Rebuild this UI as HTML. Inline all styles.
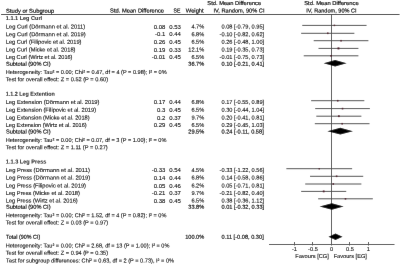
<!DOCTYPE html>
<html><head><meta charset="utf-8"><style>
html,body{margin:0;padding:0;background:#fff;}
body{width:400px;height:264px;overflow:hidden;}
svg{display:block;}
g.tx text{font-family:"Liberation Sans",sans-serif;font-size:5.65px;fill:#000;stroke:#000;stroke-width:0.1px;white-space:pre;}
g.tx text.b{font-weight:bold;fill:#1a1a1a;stroke:#1a1a1a;stroke-width:0.05px;}
</style></head><body>
<svg width="400" height="264" viewBox="0 0 400 264">
<defs>
<filter id="bl" x="0" y="0" width="400" height="264" filterUnits="userSpaceOnUse"><feConvolveMatrix order="3" kernelMatrix="0 1 0 1 24 1 0 1 0" divisor="28" edgeMode="duplicate"/></filter></defs>
<g filter="url(#bl)">
<rect x="0" y="0" width="400" height="264" fill="#fff"/>
<line x1="331.50" y1="14.50" x2="331.50" y2="244.50" stroke="#555" stroke-width="1.0"/>
<line x1="1.00" y1="14.50" x2="399.50" y2="14.50" stroke="#444" stroke-width="1.0"/>
<line x1="302.26" y1="25.40" x2="366.55" y2="25.40" stroke="#505050" stroke-width="1.0"/>
<rect x="333.69" y="24.69" width="1.43" height="1.43" fill="#4a1020"/>
<line x1="301.15" y1="33.30" x2="354.36" y2="33.30" stroke="#505050" stroke-width="1.0"/>
<rect x="326.97" y="32.51" width="1.58" height="1.58" fill="#4a1020"/>
<line x1="313.71" y1="40.70" x2="368.40" y2="40.70" stroke="#505050" stroke-width="1.0"/>
<rect x="340.28" y="39.92" width="1.56" height="1.56" fill="#4a1020"/>
<line x1="318.52" y1="48.40" x2="358.42" y2="48.40" stroke="#505050" stroke-width="1.0"/>
<rect x="337.50" y="47.43" width="1.95" height="1.95" fill="#4a1020"/>
<line x1="303.74" y1="55.80" x2="358.42" y2="55.80" stroke="#505050" stroke-width="1.0"/>
<rect x="330.30" y="55.02" width="1.56" height="1.56" fill="#4a1020"/>
<polygon points="323.69,63.25 335.14,59.95 346.60,63.25 335.14,66.55" fill="#000"/>
<line x1="311.13" y1="100.70" x2="364.34" y2="100.70" stroke="#505050" stroke-width="1.0"/>
<rect x="336.94" y="99.91" width="1.58" height="1.58" fill="#4a1020"/>
<line x1="315.19" y1="108.60" x2="369.88" y2="108.60" stroke="#505050" stroke-width="1.0"/>
<rect x="341.76" y="107.82" width="1.56" height="1.56" fill="#4a1020"/>
<line x1="316.30" y1="116.20" x2="361.38" y2="116.20" stroke="#505050" stroke-width="1.0"/>
<rect x="337.95" y="115.31" width="1.78" height="1.78" fill="#4a1020"/>
<line x1="314.82" y1="123.70" x2="369.51" y2="123.70" stroke="#505050" stroke-width="1.0"/>
<rect x="341.39" y="122.92" width="1.56" height="1.56" fill="#4a1020"/>
<polygon points="327.39,131.15 340.32,127.85 352.88,131.15 340.32,134.45" fill="#000"/>
<line x1="286.37" y1="168.70" x2="352.14" y2="168.70" stroke="#505050" stroke-width="1.0"/>
<rect x="318.55" y="167.99" width="1.42" height="1.42" fill="#4a1020"/>
<line x1="310.02" y1="176.30" x2="363.23" y2="176.30" stroke="#505050" stroke-width="1.0"/>
<rect x="335.83" y="175.51" width="1.58" height="1.58" fill="#4a1020"/>
<line x1="305.22" y1="184.00" x2="361.38" y2="184.00" stroke="#505050" stroke-width="1.0"/>
<rect x="332.53" y="183.23" width="1.53" height="1.53" fill="#4a1020"/>
<line x1="301.15" y1="191.40" x2="346.23" y2="191.40" stroke="#505050" stroke-width="1.0"/>
<rect x="322.80" y="190.51" width="1.78" height="1.78" fill="#4a1020"/>
<line x1="318.15" y1="198.80" x2="372.83" y2="198.80" stroke="#505050" stroke-width="1.0"/>
<rect x="344.71" y="198.02" width="1.56" height="1.56" fill="#4a1020"/>
<polygon points="319.63,206.50 331.82,203.20 343.64,206.50 331.82,209.80" fill="#000"/>
<polygon points="328.49,236.70 335.51,233.40 342.53,236.70 335.51,240.00" fill="#000"/>
<line x1="269.00" y1="244.50" x2="394.50" y2="244.50" stroke="#555" stroke-width="1.0"/>
<line x1="294.50" y1="242.00" x2="294.50" y2="245.50" stroke="#555" stroke-width="1.0"/>
<line x1="312.50" y1="242.00" x2="312.50" y2="245.50" stroke="#555" stroke-width="1.0"/>
<line x1="331.50" y1="242.00" x2="331.50" y2="245.50" stroke="#555" stroke-width="1.0"/>
<line x1="349.50" y1="242.00" x2="349.50" y2="245.50" stroke="#555" stroke-width="1.0"/>
<line x1="368.50" y1="242.00" x2="368.50" y2="245.50" stroke="#555" stroke-width="1.0"/>
<g class="tx">
<text transform="matrix(1.0231,0.0005,0,1,6.04,12.70)" style="stroke-width:0.17px">Study or Subgroup</text>
<text transform="matrix(1.0216,0.0005,0,1,110.04,12.50)" style="stroke-width:0.17px">Std. Mean Difference</text>
<text transform="matrix(0.9094,0.0005,0,1,173.47,12.50)" style="stroke-width:0.17px">SE</text>
<text transform="matrix(1.0275,0.0005,0,1,185.77,12.50)" style="stroke-width:0.17px">Weight</text>
<text transform="matrix(1.0178,0.0005,0,1,207.34,5.10)" style="stroke-width:0.17px">Std. Mean Difference</text>
<text transform="matrix(1.0028,0.0005,0,1,213.48,12.40)" style="stroke-width:0.17px">IV, Random, 90% CI</text>
<text transform="matrix(1.0292,0.0005,0,1,304.24,5.10)" style="stroke-width:0.17px">Std. Mean Difference</text>
<text transform="matrix(0.9870,0.0005,0,1,306.29,12.40)" style="stroke-width:0.17px">IV, Random, 90% CI</text>
<text transform="matrix(0.9809,0.0005,0,1,5.85,20.00)" class="b">1.1.1 Leg Curl</text>
<text transform="matrix(1.0263,0.0005,0,1,5.72,28.50)">Leg Curl (Dörmann et al. 2011)</text>
<text transform="matrix(1.0600,0.0005,0,1,153.64,28.50)">0.08</text>
<text transform="matrix(1.0600,0.0005,0,1,169.24,28.50)">0.53</text>
<text transform="matrix(1.0000,0.0005,0,1,191.42,28.50)">4.7%</text>
<text transform="matrix(1.0000,0.0005,0,1,221.48,28.50)">0.08 [-0.79, 0.95]</text>
<text transform="matrix(1.0263,0.0005,0,1,5.72,36.20)">Leg Curl (Dörmann et al. 2019)</text>
<text transform="matrix(1.0600,0.0005,0,1,154.98,36.20)">-0.1</text>
<text transform="matrix(1.0600,0.0005,0,1,169.24,36.20)">0.44</text>
<text transform="matrix(1.0000,0.0005,0,1,191.42,36.20)">6.8%</text>
<text transform="matrix(1.0000,0.0005,0,1,219.60,36.20)">-0.10 [-0.82, 0.62]</text>
<text transform="matrix(1.0116,0.0005,0,1,5.73,43.80)">Leg Curl (Filipovic et al. 2019)</text>
<text transform="matrix(1.0600,0.0005,0,1,153.64,43.80)">0.26</text>
<text transform="matrix(1.0600,0.0005,0,1,169.24,43.80)">0.45</text>
<text transform="matrix(1.0000,0.0005,0,1,191.42,43.80)">6.5%</text>
<text transform="matrix(1.0000,0.0005,0,1,221.48,43.80)">0.26 [-0.48, 1.00]</text>
<text transform="matrix(1.0075,0.0005,0,1,5.73,51.50)">Leg Curl (Micke et al. 2018)</text>
<text transform="matrix(1.0600,0.0005,0,1,153.64,51.50)">0.19</text>
<text transform="matrix(1.0600,0.0005,0,1,169.24,51.50)">0.33</text>
<text transform="matrix(1.0000,0.0005,0,1,188.28,51.50)">12.1%</text>
<text transform="matrix(1.0000,0.0005,0,1,221.48,51.50)">0.19 [-0.35, 0.73]</text>
<text transform="matrix(0.9911,0.0005,0,1,5.74,59.00)">Leg Curl (Wirtz et al. 2016)</text>
<text transform="matrix(1.0600,0.0005,0,1,151.65,59.00)">-0.01</text>
<text transform="matrix(1.0600,0.0005,0,1,169.24,59.00)">0.45</text>
<text transform="matrix(1.0000,0.0005,0,1,191.42,59.00)">6.5%</text>
<text transform="matrix(1.0000,0.0005,0,1,219.60,59.00)">-0.01 [-0.75, 0.73]</text>
<text transform="matrix(1.0026,0.0005,0,1,5.94,65.80)" style="stroke-width:0.16px">Subtotal (90% CI)</text>
<text transform="matrix(1.0000,0.0005,0,1,188.28,65.80)" style="stroke-width:0.16px">36.7%</text>
<text transform="matrix(1.0000,0.0005,0,1,221.48,65.80)" style="stroke-width:0.16px">0.10 [-0.21, 0.41]</text>
<text transform="matrix(0.9926,0.0005,0,1,5.74,74.00)">Heterogeneity: Tau² = 0.00; Chi² = 0.47, df = 4 (P = 0.98); I² = 0%</text>
<text transform="matrix(1.0000,0.0005,0,1,5.75,81.20)">Test for overall effect: Z = 0.52 (P = 0.60)</text>
<text transform="matrix(0.9531,0.0005,0,1,5.86,95.80)" class="b">1.1.2 Leg Extention</text>
<text transform="matrix(1.0161,0.0005,0,1,5.73,104.00)">Leg Extension (Dörmann et al. 2019)</text>
<text transform="matrix(1.0600,0.0005,0,1,153.64,104.00)">0.17</text>
<text transform="matrix(1.0600,0.0005,0,1,169.24,104.00)">0.44</text>
<text transform="matrix(1.0000,0.0005,0,1,191.42,104.00)">6.8%</text>
<text transform="matrix(1.0000,0.0005,0,1,221.48,104.00)">0.17 [-0.55, 0.89]</text>
<text transform="matrix(1.0114,0.0005,0,1,5.73,111.80)">Leg Extension (Filipovic et al. 2019)</text>
<text transform="matrix(1.0600,0.0005,0,1,156.97,111.80)">0.3</text>
<text transform="matrix(1.0600,0.0005,0,1,169.24,111.80)">0.45</text>
<text transform="matrix(1.0000,0.0005,0,1,191.42,111.80)">6.5%</text>
<text transform="matrix(1.0000,0.0005,0,1,221.48,111.80)">0.30 [-0.44, 1.04]</text>
<text transform="matrix(1.0031,0.0005,0,1,5.74,119.50)">Leg Extension (Micke et al. 2018)</text>
<text transform="matrix(1.0600,0.0005,0,1,156.97,119.50)">0.2</text>
<text transform="matrix(1.0600,0.0005,0,1,169.24,119.50)">0.37</text>
<text transform="matrix(1.0000,0.0005,0,1,191.42,119.50)">9.7%</text>
<text transform="matrix(1.0000,0.0005,0,1,221.48,119.50)">0.20 [-0.41, 0.81]</text>
<text transform="matrix(0.9895,0.0005,0,1,5.74,127.00)">Leg Extension (Wirtz et al. 2016)</text>
<text transform="matrix(1.0600,0.0005,0,1,153.64,127.00)">0.29</text>
<text transform="matrix(1.0600,0.0005,0,1,169.24,127.00)">0.45</text>
<text transform="matrix(1.0000,0.0005,0,1,191.42,127.00)">6.5%</text>
<text transform="matrix(1.0000,0.0005,0,1,221.48,127.00)">0.29 [-0.45, 1.03]</text>
<text transform="matrix(1.0026,0.0005,0,1,5.94,133.50)" style="stroke-width:0.16px">Subtotal (90% CI)</text>
<text transform="matrix(1.0000,0.0005,0,1,188.28,133.50)" style="stroke-width:0.16px">29.5%</text>
<text transform="matrix(1.0000,0.0005,0,1,221.48,133.50)" style="stroke-width:0.16px">0.24 [-0.11, 0.58]</text>
<text transform="matrix(0.9895,0.0005,0,1,5.74,142.00)">Heterogeneity: Tau² = 0.00; Chi² = 0.07, df = 3 (P = 1.00); I² = 0%</text>
<text transform="matrix(1.0000,0.0005,0,1,5.75,149.20)">Test for overall effect: Z = 1.11 (P = 0.27)</text>
<text transform="matrix(0.9887,0.0005,0,1,5.85,163.50)" class="b">1.1.3 Leg Press</text>
<text transform="matrix(1.0339,0.0005,0,1,5.72,172.00)">Leg Press (Dörmann et al. 2011)</text>
<text transform="matrix(1.0600,0.0005,0,1,151.65,172.00)">-0.33</text>
<text transform="matrix(1.0600,0.0005,0,1,169.24,172.00)">0.54</text>
<text transform="matrix(1.0000,0.0005,0,1,191.42,172.00)">4.5%</text>
<text transform="matrix(1.0000,0.0005,0,1,219.60,172.00)">-0.33 [-1.22, 0.56]</text>
<text transform="matrix(1.0339,0.0005,0,1,5.72,179.50)">Leg Press (Dörmann et al. 2019)</text>
<text transform="matrix(1.0600,0.0005,0,1,153.64,179.50)">0.14</text>
<text transform="matrix(1.0600,0.0005,0,1,169.24,179.50)">0.44</text>
<text transform="matrix(1.0000,0.0005,0,1,191.42,179.50)">6.8%</text>
<text transform="matrix(1.0000,0.0005,0,1,221.48,179.50)">0.14 [-0.58, 0.86]</text>
<text transform="matrix(1.0163,0.0005,0,1,5.73,187.50)">Leg Press (Filipovic et al. 2019)</text>
<text transform="matrix(1.0600,0.0005,0,1,153.64,187.50)">0.05</text>
<text transform="matrix(1.0600,0.0005,0,1,169.24,187.50)">0.46</text>
<text transform="matrix(1.0000,0.0005,0,1,191.42,187.50)">6.2%</text>
<text transform="matrix(1.0000,0.0005,0,1,221.48,187.50)">0.05 [-0.71, 0.81]</text>
<text transform="matrix(1.0114,0.0005,0,1,5.73,195.00)">Leg Press (Micke et al. 2018)</text>
<text transform="matrix(1.0600,0.0005,0,1,151.65,195.00)">-0.21</text>
<text transform="matrix(1.0600,0.0005,0,1,169.24,195.00)">0.37</text>
<text transform="matrix(1.0000,0.0005,0,1,191.42,195.00)">9.7%</text>
<text transform="matrix(1.0000,0.0005,0,1,219.60,195.00)">-0.21 [-0.82, 0.40]</text>
<text transform="matrix(1.0088,0.0005,0,1,5.73,202.50)">Leg Press (Wirtz et al. 2016)</text>
<text transform="matrix(1.0600,0.0005,0,1,153.64,202.50)">0.38</text>
<text transform="matrix(1.0600,0.0005,0,1,169.24,202.50)">0.45</text>
<text transform="matrix(1.0000,0.0005,0,1,191.42,202.50)">6.5%</text>
<text transform="matrix(1.0000,0.0005,0,1,221.48,202.50)">0.38 [-0.36, 1.12]</text>
<text transform="matrix(1.0026,0.0005,0,1,5.94,208.80)" style="stroke-width:0.16px">Subtotal (90% CI)</text>
<text transform="matrix(1.0000,0.0005,0,1,188.28,208.80)" style="stroke-width:0.16px">33.8%</text>
<text transform="matrix(1.0000,0.0005,0,1,221.48,208.80)" style="stroke-width:0.16px">0.01 [-0.32, 0.33]</text>
<text transform="matrix(0.9895,0.0005,0,1,5.74,217.20)">Heterogeneity: Tau² = 0.00; Chi² = 1.52, df = 4 (P = 0.82); I² = 0%</text>
<text transform="matrix(1.0000,0.0005,0,1,5.75,224.50)">Test for overall effect: Z = 0.03 (P = 0.97)</text>
<text transform="matrix(0.9543,0.0005,0,1,6.08,238.80)" style="stroke-width:0.16px">Total (90% CI)</text>
<text transform="matrix(1.0000,0.0005,0,1,185.14,238.80)" style="stroke-width:0.16px">100.0%</text>
<text transform="matrix(1.0000,0.0005,0,1,221.48,238.80)" style="stroke-width:0.16px">0.11 [-0.08, 0.30]</text>
<text transform="matrix(0.9889,0.0005,0,1,5.74,247.50)">Heterogeneity: Tau² = 0.00; Chi² = 2.68, df = 13 (P = 1.00); I² = 0%</text>
<text transform="matrix(1.0000,0.0005,0,1,5.75,254.80)">Test for overall effect: Z = 0.94 (P = 0.35)</text>
<text transform="matrix(0.9991,0.0005,0,1,6.07,262.50)">Test for subgroup differences: Chi² = 0.63, df = 2 (P = 0.73), I² = 0%</text>
<text transform="matrix(1.0000,0.0005,0,1,291.99,250.90)">-1</text>
<text transform="matrix(1.0000,0.0005,0,1,308.11,250.90)">-0.5</text>
<text transform="matrix(1.0000,0.0005,0,1,329.88,250.90)">0</text>
<text transform="matrix(1.0000,0.0005,0,1,346.00,250.90)">0.5</text>
<text transform="matrix(1.0000,0.0005,0,1,366.83,250.90)">1</text>
<text transform="matrix(1.0000,0.0005,0,1,295.20,258.00)">Favours [CG]</text>
<text transform="matrix(1.0000,0.0005,0,1,333.66,258.00)">Favours [EG]</text>
</g>
</g>
</svg>
</body></html>
